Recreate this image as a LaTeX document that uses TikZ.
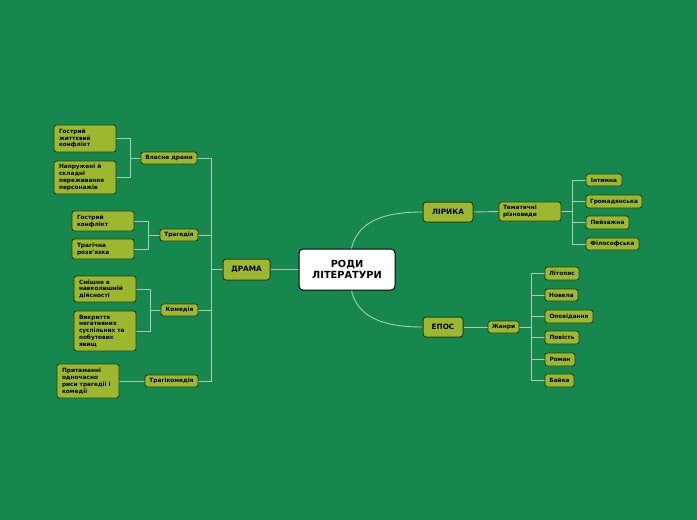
\documentclass[tikz,border=0pt]{standalone}
\usepackage{fontspec}
\setmainfont{DejaVu Sans}
\definecolor{bgc}{RGB}{22,136,77}
\definecolor{nf}{RGB}{157,184,46}
\definecolor{nb}{RGB}{40,60,25}
\definecolor{lc}{RGB}{170,205,185}
\pgfdeclarelayer{bg}
\pgfsetlayers{bg,main}
\tikzset{
  base/.style={rounded corners=2.5pt, draw=nb, fill=nf, line width=0.9pt, inner sep=0pt, text=black},
  leaf/.style={base, font=\fontsize{5.8}{6.8}\selectfont\bfseries},
  multi/.style={leaf, align=left},
  topic/.style={base, line width=1pt, rounded corners=3pt, font=\fontsize{7.3}{8}\selectfont\bfseries},
  rootbox/.style={rounded corners=4pt, draw=black, fill=white, line width=1pt, inner sep=0pt, align=center, font=\fontsize{9.8}{11}\selectfont\bfseries},
  conn/.style={draw=lc, line width=0.9pt},
}
\begin{document}
\begin{tikzpicture}[x=1pt,y=-1pt]
\useasboundingbox (0,0) rectangle (697,520);
% root and main topics
\node[rootbox, minimum width=96pt, minimum height=41pt] (root) at (347,269.5) {РОДИ\\ЛІТЕРАТУРИ};
\node[topic, minimum width=47pt, minimum height=21pt] (drama) at (246.5,269.5) {ДРАМА};
\node[topic, minimum width=50pt, minimum height=20pt] (lirika) at (448,212) {ЛІРИКА};
\node[topic, minimum width=40pt, minimum height=20pt] (epos) at (443,327) {ЕПОС};
% drama subtopics
\node[leaf, minimum width=56pt, minimum height=12pt] (vlasne) at (169,158) {Власне драма};
\node[leaf, minimum width=38pt, minimum height=12pt] (trag) at (179,235) {Трагедія};
\node[leaf, minimum width=37pt, minimum height=12pt] (komed) at (179.5,310) {Комедія};
\node[leaf, minimum width=53pt, minimum height=12pt] (tragikom) at (171.5,381) {Трагікомедія};
% drama leaves
\node[multi, minimum width=62pt, minimum height=27pt, text width=52pt] (l1) at (85,138.5) {Гострий\\життєвий\\конфлікт};
\node[multi, minimum width=62pt, minimum height=33pt, text width=52pt] (l2) at (85,177.5) {Напружені й\\складні\\переживання\\персонажів};
\node[multi, minimum width=62pt, minimum height=20pt, text width=52pt] (l3) at (103,221) {Гострий\\конфлікт};
\node[multi, minimum width=62pt, minimum height=20pt, text width=52pt] (l4) at (103,249) {Трагічна\\розв'язка};
\node[multi, minimum width=62pt, minimum height=26pt, text width=52pt] (l5) at (105,289) {Смішне в\\навколишній\\дійсності};
\node[multi, minimum width=62pt, minimum height=40pt, text width=52pt] (l6) at (105,331) {Викриття\\негативних\\суспільних та\\побутових\\явищ};
\node[multi, minimum width=62pt, minimum height=34pt, text width=52pt] (l7) at (88,381) {Притаманні\\одночасно\\риси трагедії і\\комедії};
% lirika
\node[multi, minimum width=62pt, minimum height=19pt, text width=54pt] (them) at (530,211.5) {Тематичні\\різновиди};
\node[leaf, minimum width=36pt, minimum height=12pt] (i1) at (604,180) {Інтимна};
\node[leaf, minimum width=56pt, minimum height=13pt] (i2) at (614,201.5) {Громадянська};
\node[leaf, minimum width=43pt, minimum height=13pt] (i3) at (607.5,222.5) {Пейзажна};
\node[leaf, minimum width=53pt, minimum height=12pt] (i4) at (612.5,244) {Філософська};
% epos
\node[leaf, minimum width=31pt, minimum height=12pt] (zhanry) at (503.5,327) {Жанри};
\node[leaf, minimum width=34pt, minimum height=13pt] (e1) at (562,273.5) {Літопис};
\node[leaf, minimum width=33pt, minimum height=12pt] (e2) at (561.5,295) {Новела};
\node[leaf, minimum width=48pt, minimum height=13pt] (e3) at (569,316.5) {Оповідання};
\node[leaf, minimum width=34pt, minimum height=13pt] (e4) at (562,337.5) {Повість};
\node[leaf, minimum width=30pt, minimum height=13pt] (e5) at (560,359.5) {Роман};
\node[leaf, minimum width=29pt, minimum height=13pt] (e6) at (559.5,380.5) {Байка};
% junction coordinates
\coordinate (dt) at (211,269.5);
\coordinate (jt1) at (130,158);
\coordinate (jt2) at (148,235);
\coordinate (jt3) at (150,310);
\coordinate (lt) at (572,211.5);
\coordinate (et) at (531,327);
\coordinate (rtop) at (350,262);
\coordinate (rbot) at (350,277);
\begin{pgfonlayer}{bg}
\fill[bgc] (0,0) rectangle (697,520);
\draw[conn] (root.west) -- (drama.east);
\draw[conn] (rtop) .. controls (350,222) and (382,212) .. (lirika.west);
\draw[conn] (rbot) .. controls (350,317) and (382,327) .. (epos.west);
\draw[conn] (drama.west) -- (dt);
\draw[conn] (vlasne.east) -| (dt);
\draw[conn] (trag.east) -| (dt);
\draw[conn] (komed.east) -| (dt);
\draw[conn] (tragikom.east) -| (dt);
\draw[conn] (l1.east) -| (jt1);
\draw[conn] (l2.east) -| (jt1);
\draw[conn] (jt1) -- (vlasne.west);
\draw[conn] (l3.east) -| (jt2);
\draw[conn] (l4.east) -| (jt2);
\draw[conn] (jt2) -- (trag.west);
\draw[conn] (l5.east) -| (jt3);
\draw[conn] (l6.east) -| (jt3);
\draw[conn] (jt3) -- (komed.west);
\draw[conn] (l7.east) -- (tragikom.west);
\draw[conn] (lirika.east) -- (them.west);
\draw[conn] (them.east) -- (lt);
\draw[conn] (i1.west) -| (lt);
\draw[conn] (i2.west) -| (lt);
\draw[conn] (i3.west) -| (lt);
\draw[conn] (i4.west) -| (lt);
\draw[conn] (epos.east) -- (zhanry.west);
\draw[conn] (zhanry.east) -- (et);
\draw[conn] (e1.west) -| (et);
\draw[conn] (e2.west) -| (et);
\draw[conn] (e3.west) -| (et);
\draw[conn] (e4.west) -| (et);
\draw[conn] (e5.west) -| (et);
\draw[conn] (e6.west) -| (et);
\end{pgfonlayer}
\end{tikzpicture}
\end{document}
